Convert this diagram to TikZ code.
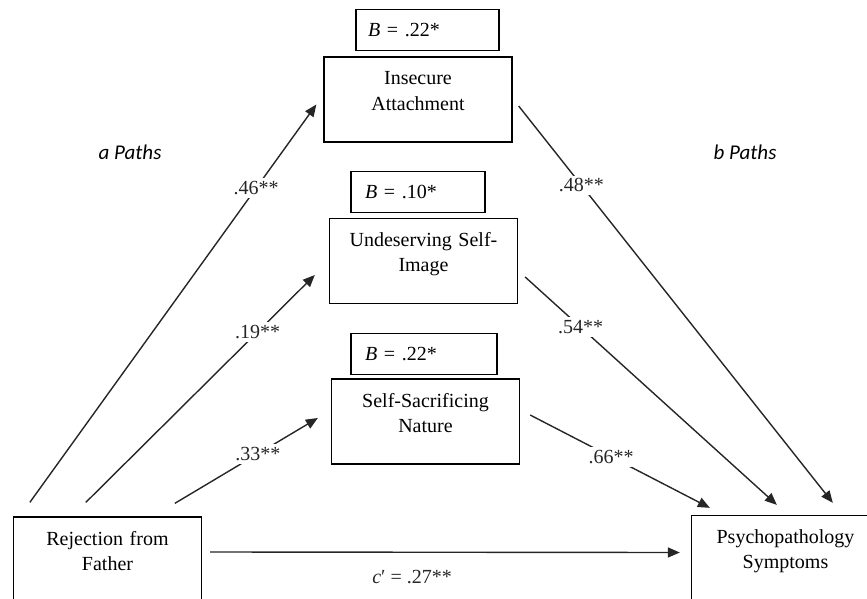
\documentclass[tikz,border=0pt]{standalone}
\usepackage{fontspec}
\setmainfont{Liberation Serif}
\newfontfamily\pathfont{Carlito}
\usetikzlibrary{arrows.meta, positioning}

\begin{document}
\begin{tikzpicture}[x=1pt, y=-1pt, >={Triangle[length=12pt, width=10pt]},
    font=\fontsize{20}{25}\selectfont,
    box/.style={rectangle, draw, line width=1.3pt, text width=176pt, align=center,
                inner xsep=6pt, inner ysep=0pt, text height=28pt, text depth=57pt},
    bbox/.style={rectangle, draw, line width=1.3pt, align=left, inner xsep=12pt,
                 inner ysep=0pt, minimum height=41pt},
    link/.style={->, line width=1.4pt, black!85},
    coef/.style={fill=white, inner sep=3pt},
    pathlbl/.style={font=\pathfont\itshape\fontsize{21}{25}\selectfont}]

    \useasboundingbox (0,0) rectangle (867,599);

    \node[box] (ins) at (418,99.5) {Insecure\\Attachment};
    \node[box] (und) at (423.5,261) {Undeserving Self-\\Image};
    \node[box] (sac) at (425.5,421.5) {Self-Sacrificing\\Nature};
    \node[box] (rej) at (107.5,559.5) {Rejection from\\Father};
    \node[box] (psy) at (785.5,558) {Psychopathology\\Symptoms};

    \node[bbox, text width=119pt, above=5pt of ins, xshift=9.5pt] (bins) {\textit{B} = .22*};
    \node[bbox, text width=106pt, inner xsep=14pt, above=5pt of und, xshift=-5.5pt] (bund) {\textit{B} = .10*};
    \node[bbox, text width=118pt, inner xsep=14pt, above=3pt of sac, xshift=-1.5pt] (bsac) {\textit{B} = .22*};

    \node[pathlbl] (apaths) at (130,152) {a Paths};
    \node[pathlbl] (bpaths) at (745,152) {b Paths};

    \draw[link] ([xshift=17pt, yshift=14pt]rej.north west) -- node[coef, pos=0.79] {.46**} ([xshift=-7pt, yshift=-5pt]ins.west);
    \draw[link] ([xshift=73pt, yshift=14pt]rej.north west) -- node[coef, pos=0.75] {.19**} ([xshift=-14pt, yshift=-14pt]und.west);
    \draw[link] ([xshift=162pt, yshift=13pt]rej.north west) -- node[coef, pos=0.58] {.33**} ([xshift=-13pt, yshift=3.5pt]sac.west);

    \draw[link] ([xshift=6pt, yshift=-6.5pt]ins.east) -- node[coef, pos=0.2] {.48**} ([xshift=142pt, yshift=12pt]psy.north west);
    \draw[link] ([xshift=7pt, yshift=-16pt]und.east) -- node[coef, pos=0.22] {.54**} ([xshift=86pt, yshift=10pt]psy.north west);
    \draw[link] ([xshift=10pt, yshift=6.5pt]sac.east) -- node[coef, pos=0.45] {.66**} ([xshift=19pt, yshift=7pt]psy.north west);

    \draw[link] ([xshift=8pt, yshift=7.5pt]rej.east) -- node[below=14pt, pos=0.43] {\textit{c}′ = .27**} ([xshift=-11pt, yshift=5.5pt]psy.west);
\end{tikzpicture}
\end{document}
